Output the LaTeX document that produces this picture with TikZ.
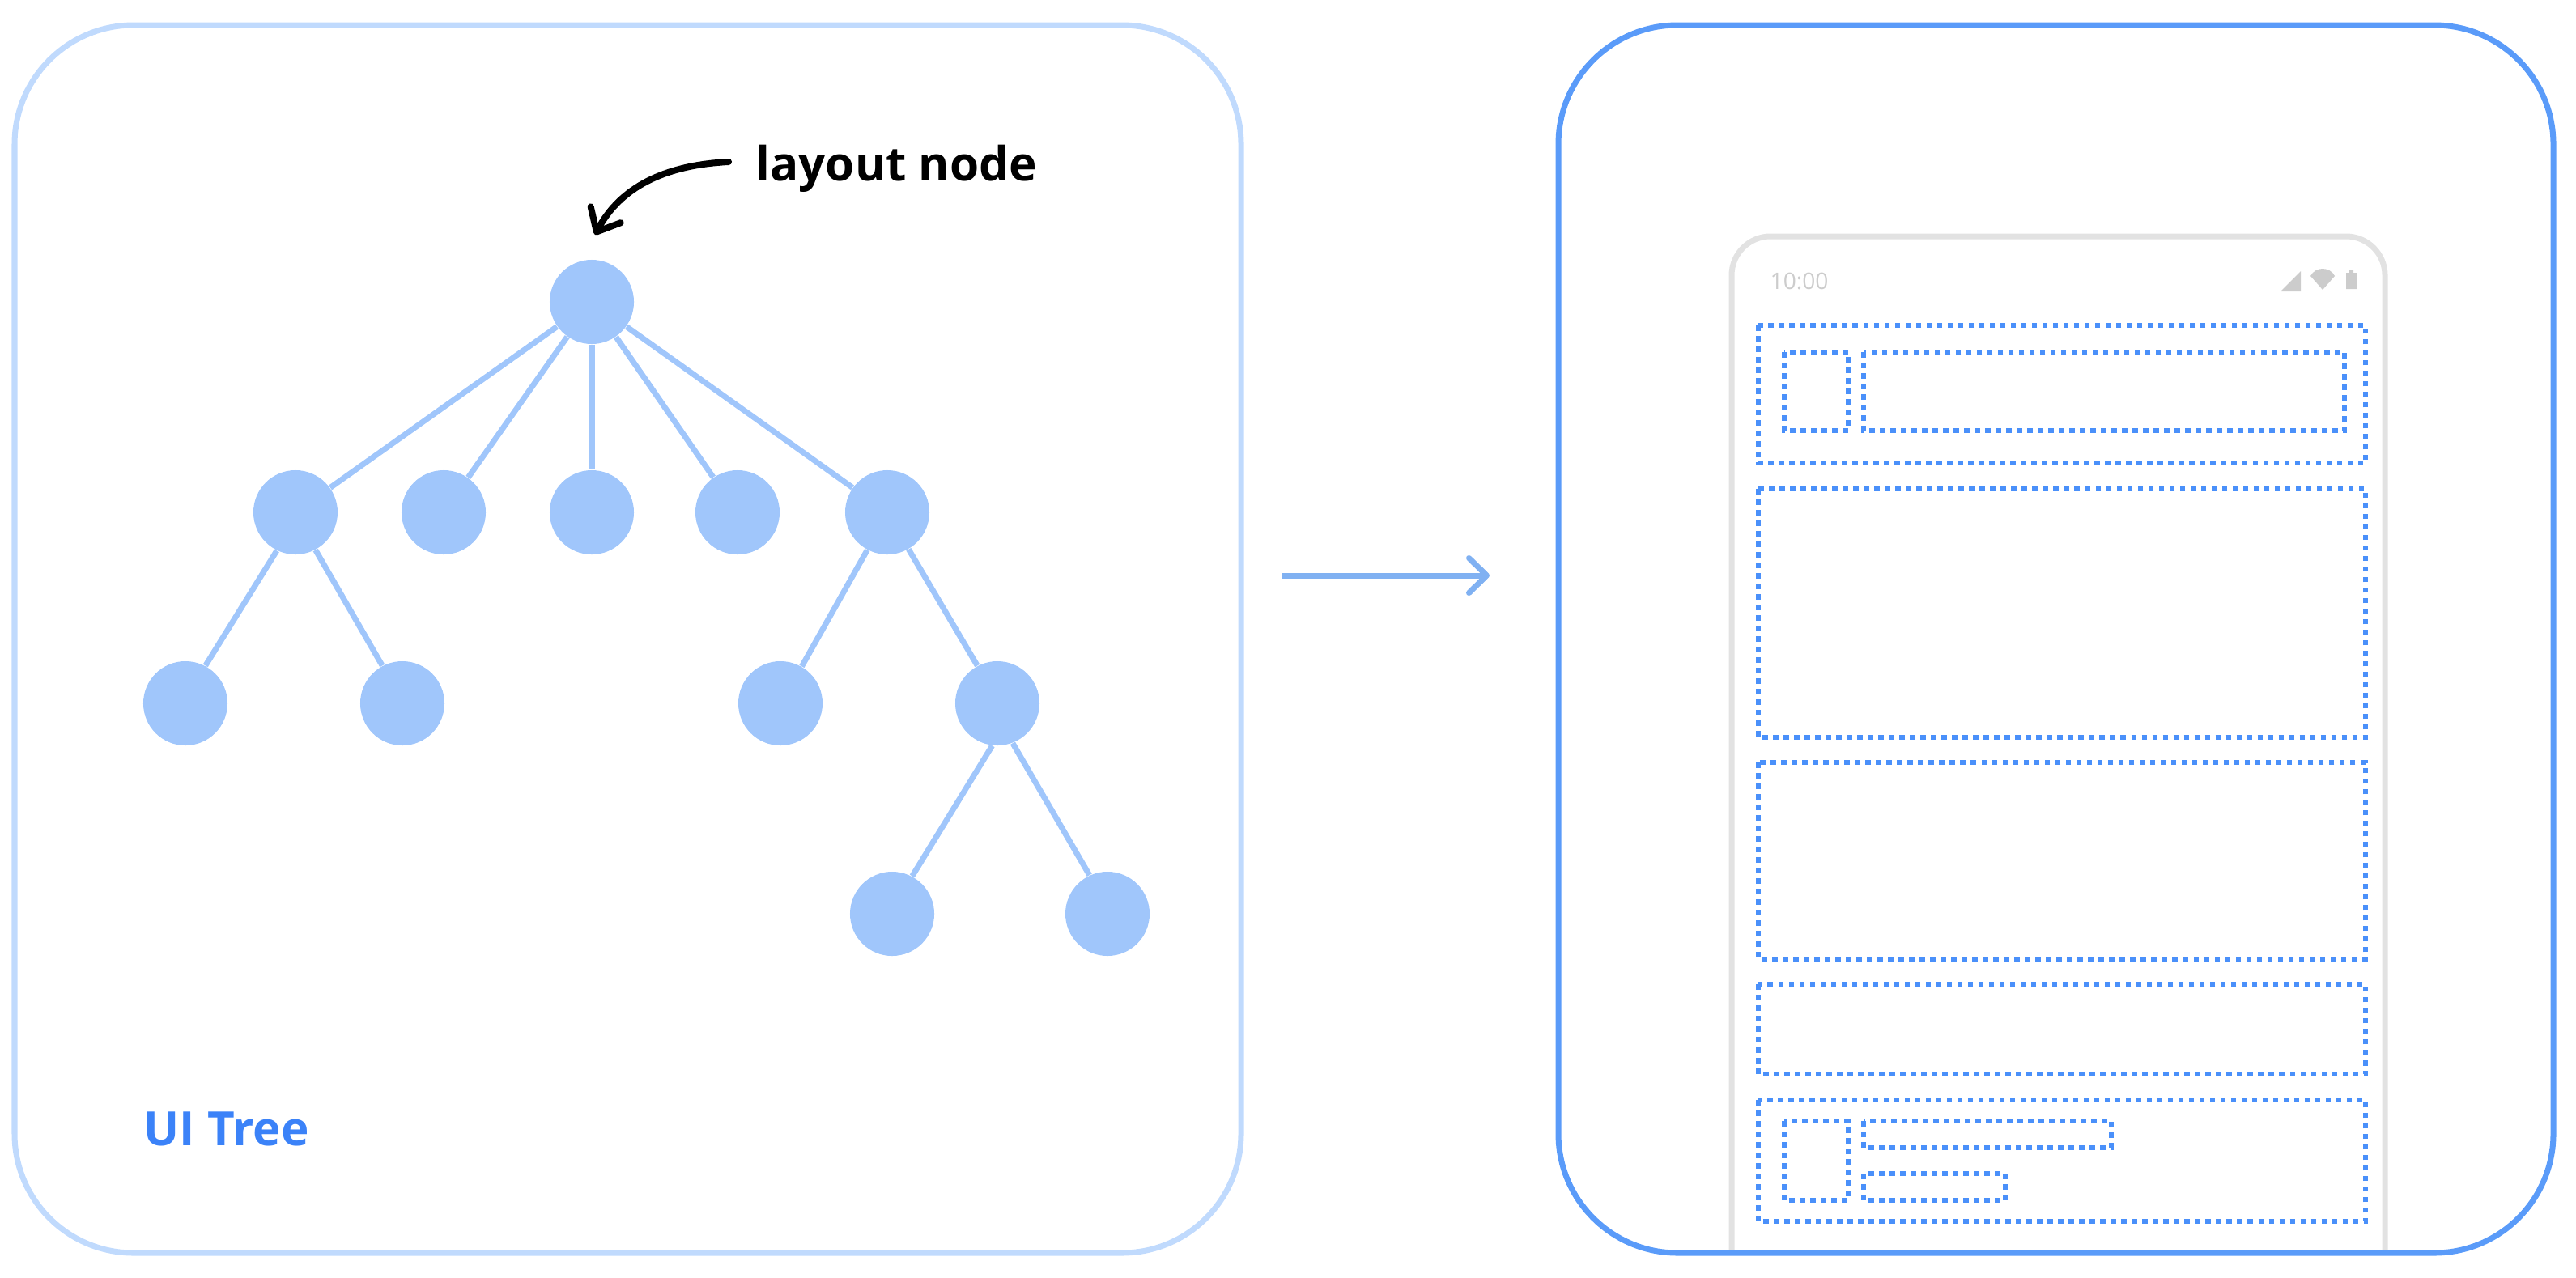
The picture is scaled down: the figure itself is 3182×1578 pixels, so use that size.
\documentclass[tikz,border=0pt]{standalone}
\usepackage{fontspec}
\setmainfont{Open Sans}
\usetikzlibrary{arrows.meta}

\definecolor{framelight}{HTML}{C0DAFD}
\definecolor{framedark}{HTML}{5A9BF9}
\definecolor{treeblue}{HTML}{A0C6FB}
\definecolor{arrowblue}{HTML}{80B1F2}
\definecolor{dotblue}{HTML}{4A90FA}
\definecolor{labelblue}{HTML}{3B82F8}
\definecolor{phonegray}{HTML}{E2E2E2}
\definecolor{statusgray}{HTML}{CCCCCC}

\tikzset{
	frame/.style={line width=0.07cm, rounded corners=1.47cm},
	treenode/.style={circle, fill=treeblue, minimum size=1.04cm, inner sep=0pt},
	treeedge/.style={treeblue, line width=0.07cm},
	dotbox/.style={dotblue, line width=0.065cm, dash pattern=on 0.065cm off 0.065cm},
	caption/.style={anchor=base west, inner sep=0pt, font=\bfseries\fontsize{16.6}{18}\selectfont},
}

\begin{document}
\begin{tikzpicture}[x=0.01cm, y=-0.01cm]
	\useasboundingbox (0,0) rectangle (3182,1578);

	\node[treenode] (root) at (731,373) {};
	\node[treenode] (a) at (365,633) {};
	\node[treenode] (b) at (548,633) {};
	\node[treenode] (c) at (731,633) {};
	\node[treenode] (d) at (911,633) {};
	\node[treenode] (e) at (1096,633) {};
	\node[treenode] (aa) at (229,869) {};
	\node[treenode] (ab) at (497,869) {};
	\node[treenode] (ea) at (964,869) {};
	\node[treenode] (eb) at (1232,869) {};
	\node[treenode] (eba) at (1102,1129) {};
	\node[treenode] (ebb) at (1368,1129) {};

	\draw[treeedge]	(root) -- (a);
	\draw[treeedge]	(root) -- (b);
	\draw[treeedge]	(root) -- (c);
	\draw[treeedge]	(root) -- (d);
	\draw[treeedge]	(root) -- (e);
	\draw[treeedge]	(a.-116) -- (aa.62);
	\draw[treeedge]	(a.-62) -- (ab.118);
	\draw[treeedge]	(e.-118) -- (ea.60);
	\draw[treeedge]	(e.-60) -- (eb.118);
	\draw[treeedge]	(eb.-97) -- (eba.62);
	\draw[treeedge]	(eb.-69) -- (ebb.115);

	\node[caption] (layout) at (933,223) {layout node};
	\node[caption, text=labelblue] (uitree) at (177,1415) {UI Tree};

	\coordinate (S) at (900,200);
	\coordinate (T) at (735,290);
	\draw[black, line width=0.08cm, line cap=round, -{Straight Barb[length=0.24cm, width=0.42cm, round]}]
		(S) .. controls (820,204) and (766,232) .. (T);

	\coordinate (P) at (1583,711);
	\coordinate (Q) at (1840,711);
	\draw[arrowblue, line width=0.07cm, -{Straight Barb[length=0.22cm, width=0.43cm, round]}] (P) -- (Q);

	\draw[phonegray, line width=0.07cm, rounded corners=0.48cm]
		(2139,1548) -- (2139,292) -- (2946,292) -- (2946,1548);
	\node[anchor=base west, inner sep=0pt, text=statusgray, font=\fontsize{8}{10}\selectfont] (clock) at (2186,357) {10:00};
	\fill[statusgray] (2817,360) -- (2842,335) -- (2842,360) -- cycle;
	\fill[statusgray] (2869,358) -- (2854,341) .. controls (2860,329) and (2878,329) .. (2884,341) -- cycle;
	\fill[statusgray] (2898,337) -- (2902,337) -- (2902,333) -- (2907,333) -- (2907,337) -- (2911,337) -- (2911,357) -- (2898,357) -- cycle;

	\draw[dotbox]	(2172,402) rectangle (2922,572);
	\draw[dotbox]	(2204,435) rectangle (2283,532);
	\draw[dotbox]	(2302,435) rectangle (2896,532);
	\draw[dotbox]	(2172,604) rectangle (2922,911);
	\draw[dotbox]	(2172,942) rectangle (2922,1185);
	\draw[dotbox]	(2172,1216) rectangle (2922,1327);
	\draw[dotbox]	(2172,1359) rectangle (2922,1509);
	\draw[dotbox]	(2204,1385) rectangle (2283,1483);
	\draw[dotbox]	(2302,1385) rectangle (2608,1418);
	\draw[dotbox]	(2302,1450) rectangle (2477,1483);

	\draw[frame, framelight]	(18,31) rectangle (1533,1548);
	\draw[frame, framedark]		(1925,31) rectangle (3154,1548);
\end{tikzpicture}
\end{document}
